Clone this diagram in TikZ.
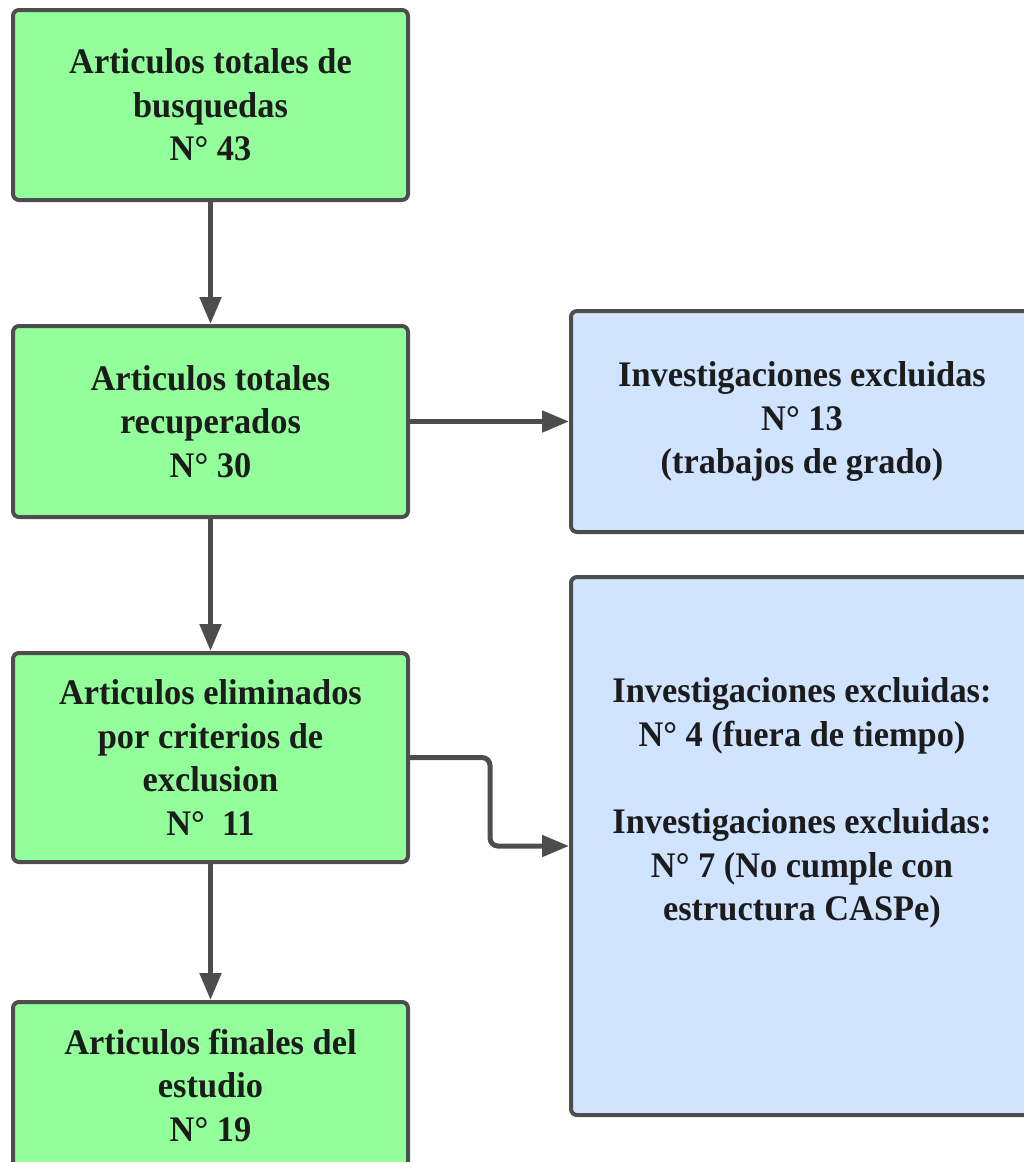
\documentclass[tikz,border=0pt]{standalone}
\usepackage{fontspec}
\setmainfont[FakeStretch=0.955]{Liberation Serif}
\usetikzlibrary{arrows.meta,calc}
\definecolor{boxgreen}{RGB}{146,255,154}
\definecolor{boxblue}{RGB}{208,228,255}
\definecolor{edge}{RGB}{77,77,77}
\definecolor{txt}{RGB}{28,28,28}
\begin{document}
\begin{tikzpicture}[x=1pt,y=1pt,
  base/.style={draw=edge, line width=4pt, rounded corners=6pt, align=center,
    font=\fontsize{36}{43.5}\selectfont\bfseries, text=txt, inner sep=0pt},
  greenbox/.style={base, fill=boxgreen, minimum width=395pt},
  bluebox/.style={base, fill=boxblue, minimum width=462pt},
  arr/.style={draw=edge, line width=5pt, -{Triangle[length=27pt,width=21pt]}}]
\useasboundingbox (0,0) rectangle (1023,-1162);
\node[greenbox, minimum height=190pt] (b1) at (210.5,-105)
  {Articulos totales de\\busquedas\\N° 43};
\node[greenbox, minimum height=191pt] (b2) at (210.5,-421.5)
  {Articulos totales\\recuperados\\N° 30};
\node[greenbox, minimum height=209pt] (b3) at (210.5,-757.5)
  {Articulos eliminados\\por criterios de\\exclusion\\N°\ \ 11};
\node[greenbox, minimum height=166pt] (b4) at (210.5,-1085)
  {Articulos finales del\\estudio\\N° 19};
\node[bluebox, minimum height=221pt] (c1) at (802,-421.5)
  {Investigaciones excluidas\\N° 13\\(trabajos de grado)};
\node[bluebox, minimum height=538pt] (c2) at (802,-846) {};
\node[align=center, font=\fontsize{36}{43.5}\selectfont\bfseries, text=txt, inner sep=0pt] (c2t) at (802,-803)
  {Investigaciones excluidas:\\N° 4 (fuera de tiempo)\\[44pt]Investigaciones excluidas:\\N° 7 (No cumple con\\estructura CASPe)};
\draw[arr] (b1) -- (b2);
\draw[arr] (b2) -- (b3);
\draw[arr] (b3) -- (b4);
\draw[arr] (b2) -- (c1);
\draw[arr, rounded corners=8pt] (b3.east) -- ++(80,0) |- (c2.west);
\end{tikzpicture}
\end{document}
